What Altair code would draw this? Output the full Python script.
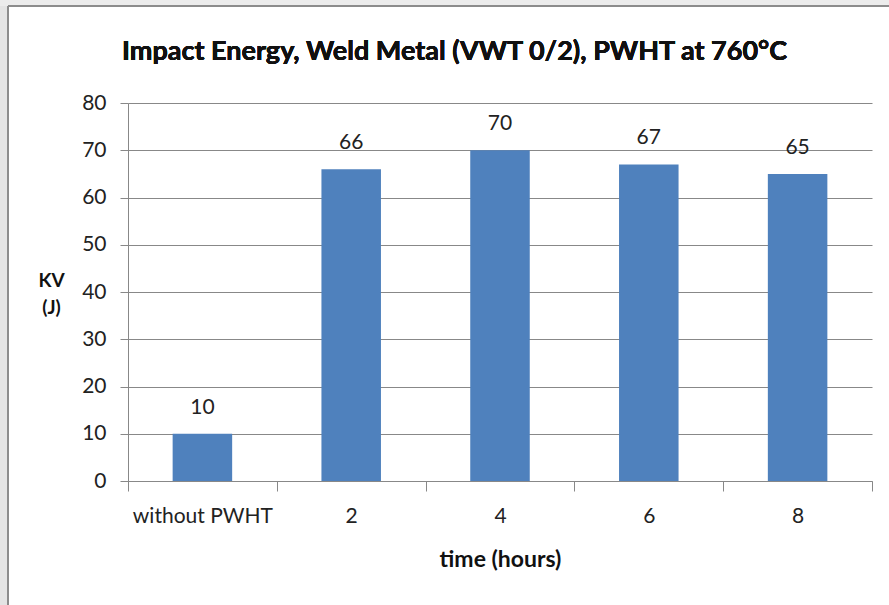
import altair as alt
import pandas as pd

# Charpy impact energy of the weld metal after post-weld heat treatment
categories = ["without PWHT", "2", "4", "6", "8"]
impact_j = [10, 66, 70, 67, 65]
y_ticks = [0, 10, 20, 30, 40, 50, 60, 70, 80]
chart_title = "Impact Energy, Weld Metal (VWT 0/2), PWHT at 760°C"

df = pd.DataFrame({"time": categories, "kv": impact_j})

FONT = "Lato"
GRID = "#888888"
BAR = "#4F81BD"

PLOT_W, PLOT_H = 744, 378
PAD = {"left": 128, "top": 103, "right": 17, "bottom": 124}

x_enc = alt.X(
    "time:N",
    sort=categories,
    title="time (hours)",
    scale=alt.Scale(paddingInner=0, paddingOuter=0),
    axis=alt.Axis(
        labelAngle=0,
        tickBand="extent",
        tickSize=10,
        tickColor=GRID,
        domainColor=GRID,
        labelFont=FONT,
        labelFontSize=21,
        labelColor="#222222",
        labelPadding=14,
        titleFont=FONT,
        titleFontSize=23,
        titleFontWeight="bold",
        titleColor="#111111",
        titlePadding=22,
    ),
)

y_enc = alt.Y(
    "kv:Q",
    scale=alt.Scale(domain=[0, 80], nice=False),
    title=["KV", "(J)"],
    axis=alt.Axis(
        values=y_ticks,
        grid=True,
        gridColor=GRID,
        tickColor=GRID,
        domainColor=GRID,
        tickSize=8,
        labelFont=FONT,
        labelFontSize=21,
        labelColor="#222222",
        labelPadding=14,
        titleFont=FONT,
        titleFontSize=19,
        titleFontWeight="bold",
        titleColor="#111111",
        titleAngle=0,
        titleAlign="center",
        titleBaseline="middle",
        titleX=-77,
        titleY=177,
        titleLineHeight=27,
    ),
)

bars = alt.Chart(df).mark_bar(color=BAR, width=alt.RelativeBandSize(0.4)).encode(
    x=x_enc, y=y_enc
)

labels = alt.Chart(df).mark_text(
    font=FONT, fontSize=21, color="#222222", baseline="bottom", dy=-16
).encode(x=alt.X("time:N", sort=categories), y="kv:Q", text="kv:Q")

heading = alt.Chart(df).mark_text(
    text=chart_title,
    font=FONT,
    fontSize=27,
    fontWeight="bold",
    color="#111111",
    align="left",
    baseline="alphabetic",
).encode(x=alt.value(-6), y=alt.value(-43))

# frame around the chart area with the grey strip outside it
strip_left = alt.Chart(df).mark_rect(color="#e4e4e4").encode(
    x=alt.value(-PAD["left"]), x2=alt.value(-120),
    y=alt.value(-PAD["top"]), y2=alt.value(PLOT_H + PAD["bottom"]),
)
strip_top = alt.Chart(df).mark_rect(color="#ececec").encode(
    x=alt.value(-PAD["left"]), x2=alt.value(PLOT_W + PAD["right"]),
    y=alt.value(-PAD["top"]), y2=alt.value(-97),
)
edge_left = alt.Chart(df).mark_rule(color="#8c8c8c", strokeWidth=2).encode(
    x=alt.value(-120), y=alt.value(-97), y2=alt.value(PLOT_H + PAD["bottom"]),
)
edge_top = alt.Chart(df).mark_rule(color="#8c8c8c", strokeWidth=2).encode(
    x=alt.value(-120), x2=alt.value(PLOT_W + PAD["right"]), y=alt.value(-97),
)

chart = (
    alt.layer(strip_left, strip_top, edge_left, edge_top, bars, labels, heading)
    .properties(
        width=PLOT_W,
        height=PLOT_H,
        padding=PAD,
        autosize=alt.AutoSizeParams(type="none"),
        background="white",
    )
    .configure_view(stroke=None)
)

chart.save("out.html", embed_options={"renderer": "svg", "actions": False})
